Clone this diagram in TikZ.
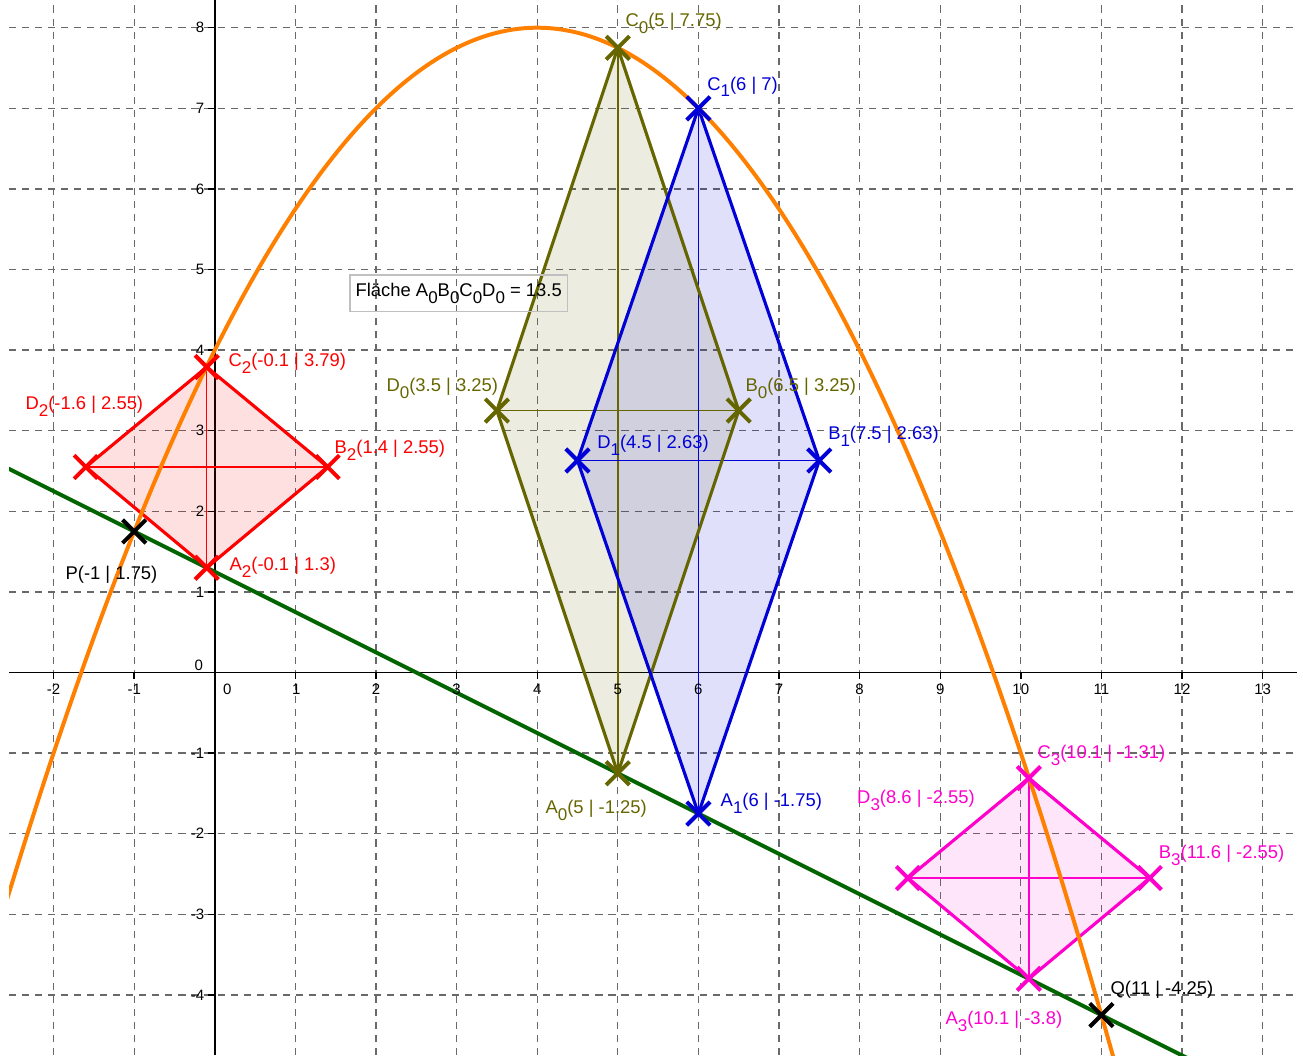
\documentclass[tikz,border=0pt]{standalone}
\usepackage{fontspec}
\setmainfont{Liberation Sans}
\usetikzlibrary{calc}
\definecolor{orng}{RGB}{255,127,0}
\definecolor{dgreen}{RGB}{0,100,0}
\definecolor{olv}{RGB}{102,102,0}
\definecolor{blu}{RGB}{0,0,215}
\definecolor{rd}{RGB}{255,0,0}
\definecolor{mag}{RGB}{255,0,204}
\definecolor{gridc}{RGB}{105,105,105}
\definecolor{boxc}{RGB}{192,192,192}
\newcommand{\sbs}[1]{\raisebox{-0.7ex}{\fontsize{6}{6}\selectfont #1}}
\newcommand{\crs}[2]{\draw[crossline,#2] (#1) +(-0.145,-0.145) -- +(0.145,0.145) (#1) +(-0.145,0.145) -- +(0.145,-0.145);}
\tikzset{
  gridline/.style={gridc, line width=0.45pt, dash pattern=on 2.5pt off 2.1pt},
  axisline/.style={black, line width=0.5pt},
  ticklbl/.style={font=\fontsize{5.3}{6}\selectfont, inner sep=0pt},
  edge/.style={line width=1.1pt, line join=round},
  diag/.style={line width=0.5pt},
  crossline/.style={line width=1.4pt},
  lbl/.style={font=\fontsize{6.5}{7.5}\selectfont, anchor=base west, inner sep=0pt},
}
\begin{document}
\begin{tikzpicture}[x=1cm,y=1cm]
\useasboundingbox (-2.665,-4.746) rectangle (13.501,8.344);
\begin{scope}
\clip (-2.553,-4.746) rectangle (13.427,8.344);
% grid
\foreach \i in {-2,...,13} \draw[gridline] (\i,-4.746) -- (\i,8.344);
\foreach \j in {-4,...,8} \draw[gridline] (-2.553,\j) -- (13.427,\j);
% axes
\draw[axisline] (-2.553,0) -- (13.427,0);
\draw[axisline] (0,-4.746) -- (0,8.344);
\foreach \i in {-2,...,13} \draw[axisline] (\i,0) -- (\i,-0.08);
\foreach \j in {-4,...,8} \draw[axisline] (0,\j) -- (-0.08,\j);

% points
\coordinate (A0) at (5,-1.25);  \coordinate (B0) at (6.5,3.25);
\coordinate (C0) at (5,7.75);   \coordinate (D0) at (3.5,3.25);
\coordinate (A1) at (6,-1.75);  \coordinate (B1) at (7.5,2.63);
\coordinate (C1) at (6,7);      \coordinate (D1) at (4.5,2.63);
\coordinate (A2) at (-0.1,1.3); \coordinate (B2) at (1.4,2.55);
\coordinate (C2) at (-0.1,3.79);\coordinate (D2) at (-1.6,2.55);
\coordinate (A3) at (10.1,-3.8);\coordinate (B3) at (11.6,-2.55);
\coordinate (C3) at (10.1,-1.31);\coordinate (D3) at (8.6,-2.55);
\coordinate (P) at (-1,1.75);   \coordinate (Q) at (11,-4.25);

% rhombi fills
\fill[olv,opacity=0.12] (A0) -- (B0) -- (C0) -- (D0) -- cycle;
\fill[blu,opacity=0.12] (A1) -- (B1) -- (C1) -- (D1) -- cycle;
\fill[rd,opacity=0.12] (A2) -- (B2) -- (C2) -- (D2) -- cycle;
\fill[mag,opacity=0.1] (A3) -- (B3) -- (C3) -- (D3) -- cycle;
% diagonals
\draw[diag,olv] (A0) -- (C0) (B0) -- (D0);
\draw[diag,blu] (A1) -- (C1) (B1) -- (D1);
\draw[diag,rd] (A2) -- (C2) (B2) -- (D2);
\draw[diag,mag] (A3) -- (C3) (B3) -- (D3);
% edges
\draw[edge,olv] (A0) -- (B0) -- (C0) -- (D0) -- cycle;
\draw[edge,blu] (A1) -- (B1) -- (C1) -- (D1) -- cycle;
\draw[edge,rd] (A2) -- (B2) -- (C2) -- (D2) -- cycle;
\draw[edge,mag] (A3) -- (B3) -- (C3) -- (D3) -- cycle;

% line and parabola
\draw[dgreen, line width=1.4pt, shorten <=-2.2cm, shorten >=-1.6cm] (P) -- (Q);
\draw[orng, line width=1.4pt, domain=-3.3:11.3, samples=220, smooth] plot (\x,{8-0.25*(\x-4)*(\x-4)});

% crosses
\crs{A0}{olv}\crs{B0}{olv}\crs{C0}{olv}\crs{D0}{olv}
\crs{A1}{blu}\crs{B1}{blu}\crs{C1}{blu}\crs{D1}{blu}
\crs{A2}{rd}\crs{B2}{rd}\crs{C2}{rd}\crs{D2}{rd}
\crs{A3}{mag}\crs{B3}{mag}\crs{C3}{mag}\crs{D3}{mag}
\crs{P}{black}\crs{Q}{black}
\end{scope}

% tick labels
\foreach \i/\xo in {-2/0,-1/0,1/0.01,2/0,3/0,4/0,5/0,6/0,7/0,8/0,9/0,10/0,11/0,12/0,13/0}
  \node[ticklbl, anchor=north] (xl\i) at (\i+\xo,-0.135) {\i};
\node[ticklbl, anchor=north] (xl0) at (0.155,-0.135) {0};
\foreach \j in {-4,...,-1,1,2,...,8}
  \node[ticklbl, anchor=east] (yl\j) at (-0.125,\j) {\j};
\node[ticklbl, anchor=east] (yl0) at (-0.14,0.093) {0};

% labels
\node[lbl, text=olv] (lC0) at (5.089,8.013) {C\sbs{0}(5 | 7.75)};
\node[lbl, text=olv] (lB0) at (6.578,3.484) {B\sbs{0}(6.5 | 3.25)};
\node[lbl, text=olv] (lD0) at (2.124,3.484) {D\sbs{0}(3.5 | 3.25)};
\node[lbl, text=olv] (lA0) at (4.097,-1.747) {A\sbs{0}(5 | -1.25)};
\node[lbl, text=blu] (lC1) at (6.103,7.227) {C\sbs{1}(6 | 7)};
\node[lbl, text=blu] (lB1) at (7.604,2.885) {B\sbs{1}(7.5 | 2.63)};
\node[lbl, text=blu] (lD1) at (4.738,2.781) {D\sbs{1}(4.5 | 2.63)};
\node[lbl, text=blu] (lA1) at (6.27,-1.665) {A\sbs{1}(6 | -1.75)};
\node[lbl, text=rd] (lC2) at (0.163,3.794) {C\sbs{2}(-0.1 | 3.79)};
\node[lbl, text=rd] (lD2) at (-2.355,3.257) {D\sbs{2}(-1.6 | 2.55)};
\node[lbl, text=rd] (lB2) at (1.48,2.72) {B\sbs{2}(1.4 | 2.55)};
\node[lbl, text=rd] (lA2) at (0.177,1.263) {A\sbs{2}(-0.1 | 1.3)};
\node[lbl, text=mag] (lC3) at (10.2,-1.065) {C\sbs{3}(10.1 | -1.31)};
\node[lbl, text=mag] (lD3) at (7.963,-1.623) {D\sbs{3}(8.6 | -2.55)};
\node[lbl, text=mag] (lB3) at (11.706,-2.305) {B\sbs{3}(11.6 | -2.55)};
\node[lbl, text=mag] (lA3) at (9.06,-4.373) {A\sbs{3}(10.1 | -3.8)};
\node[lbl, text=black] (lP) at (-1.858,1.148) {P(-1 | 1.75)};
\node[lbl, text=black] (lQ) at (11.107,-4.0) {Q(11 | -4.25)};

% area box
\draw[boxc, line width=0.5pt] (1.675,4.476) rectangle (4.373,4.932);
\node[lbl, text=black] (area) at (1.74,4.663) {Fläche A\sbs{0}B\sbs{0}C\sbs{0}D\sbs{0} = 13.5};
\end{tikzpicture}
\end{document}
